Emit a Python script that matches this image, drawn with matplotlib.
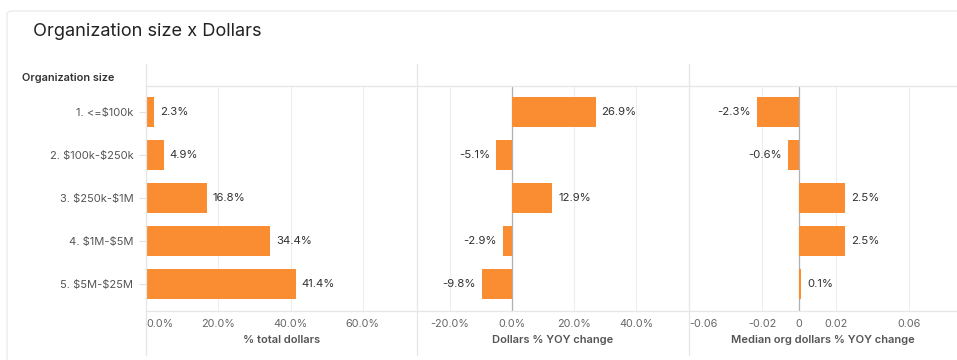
import matplotlib.pyplot as plt
from matplotlib.lines import Line2D
from matplotlib.patches import FancyBboxPatch
import numpy as np

plt.rcParams['font.family'] = ['Inter', 'DejaVu Sans']
plt.rcParams['text.parse_math'] = False

# data
org_sizes = ['1. <=$100k', '2. $100k-$250k', '3. $250k-$1M', '4. $1M-$5M', '5. $5M-$25M']
pct_total = [2.3, 4.9, 16.8, 34.4, 41.4]
dollars_yoy = [26.9, -5.1, 12.9, -2.9, -9.8]
median_yoy = [-0.023, -0.006, 0.025, 0.025, 0.001]

W, H = 957, 360
BAR = '#FA8C32'
GRID = '#ededed'
TXT = '#333333'
TICK = '#666666'


def fx(px):
    return px / W


def fy(py):
    return 1 - py / H


fig = plt.figure(figsize=(W / 100, H / 100), dpi=100)
fig.patch.set_facecolor('white')

# card outline
card = FancyBboxPatch((fx(7), fy(400)), fx(990) - fx(7), fy(11) - fy(400),
                      boxstyle='round,pad=0,rounding_size=0.008',
                      transform=fig.transFigure, facecolor='none',
                      edgecolor='#ececec', linewidth=1.0)
fig.patches.append(card)

fig.text(fx(33), fy(31), 'Organization size x Dollars', fontsize=13.1,
         color='#222222', va='center', ha='left')
fig.text(fx(22), fy(78), 'Organization size', fontsize=7.9,
         fontweight='semibold', color='#333333', va='center', ha='left')

panels = [
    dict(x0=146, x1=417, vals=pct_total, xlim=(0, 75), ticks=[0, 20, 40, 60],
         fmt=lambda v: f'{v:.1f}%', lab=lambda v: f'{v:.1f}%',
         title='% total dollars', zero=False),
    dict(x0=417, x1=689, vals=dollars_yoy, xlim=(-30.6, 57), ticks=[-20, 0, 20, 40],
         fmt=lambda v: f'{v:.1f}%', lab=lambda v: f'{v:.1f}%',
         title='Dollars % YOY change', zero=True),
    dict(x0=689, x1=957, vals=median_yoy, xlim=(-0.06, 0.086),
         ticks=[-0.06, -0.02, 0, 0.02, 0.06],
         fmt=lambda v: '0' if v == 0 else f'{v:.2f}', lab=lambda v: f'{v * 100:.1f}%',
         title='Median org dollars % YOY change', zero=True),
]

top, bottom = 86, 311
y = np.arange(len(org_sizes))

for i, p in enumerate(panels):
    ax = fig.add_axes([fx(p['x0']), fy(bottom), fx(p['x1']) - fx(p['x0']),
                       fy(top) - fy(bottom)])
    ax.set_facecolor('none')
    ax.barh(y, p['vals'], height=0.7, color=BAR, zorder=3)
    ax.set_xlim(*p['xlim'])
    ax.set_ylim(4.63, -0.6)
    for s in ax.spines.values():
        s.set_visible(False)
    ax.set_xticks(p['ticks'])
    ax.set_xticklabels([p['fmt'](t) for t in p['ticks']])
    ax.tick_params(axis='x', length=0, pad=6, labelsize=7.8, labelcolor=TICK)
    ax.xaxis.grid(True, color=GRID, linewidth=0.8, zorder=0)
    ax.set_axisbelow(True)
    if i == 0 or i == 2:
        ax.get_xticklabels()[0].set_ha('left')
    if p['zero']:
        ax.axvline(0, color='#b0b0b0', linewidth=0.9, zorder=2)
    if i == 0:
        ax.set_yticks(y)
        ax.set_yticklabels(org_sizes)
        ax.tick_params(axis='y', length=5, width=0.8, color='#e2e2e2', pad=4,
                       labelsize=8.0, labelcolor='#555555')
    else:
        ax.set_yticks([])
    ax.set_xlabel(p['title'], fontsize=8.0, fontweight='semibold',
                  color='#555555', labelpad=4)

    # value labels
    span = p['xlim'][1] - p['xlim'][0]
    off = span * 6 / (p['x1'] - p['x0'])
    for yi, v in zip(y, p['vals']):
        if v >= 0:
            ax.text(v + off, yi, p['lab'](v), va='center', ha='left',
                    fontsize=8.2, color=TXT)
        else:
            ax.text(v - off, yi, p['lab'](v), va='center', ha='right',
                    fontsize=8.2, color=TXT)

# frame lines
line_c = '#e6e6e6'
for x in [146, 417, 689]:
    fig.add_artist(Line2D([fx(x), fx(x)], [fy(64), fy(355)],
                          transform=fig.transFigure, color=line_c, linewidth=0.9))
fig.add_artist(Line2D([fx(146), fx(957)], [fy(top), fy(top)],
                      transform=fig.transFigure, color=line_c, linewidth=0.9))
fig.add_artist(Line2D([fx(146), fx(957)], [fy(bottom), fy(bottom)],
                      transform=fig.transFigure, color=line_c, linewidth=0.9))

fig.savefig('out.png', dpi=100, facecolor='white')
